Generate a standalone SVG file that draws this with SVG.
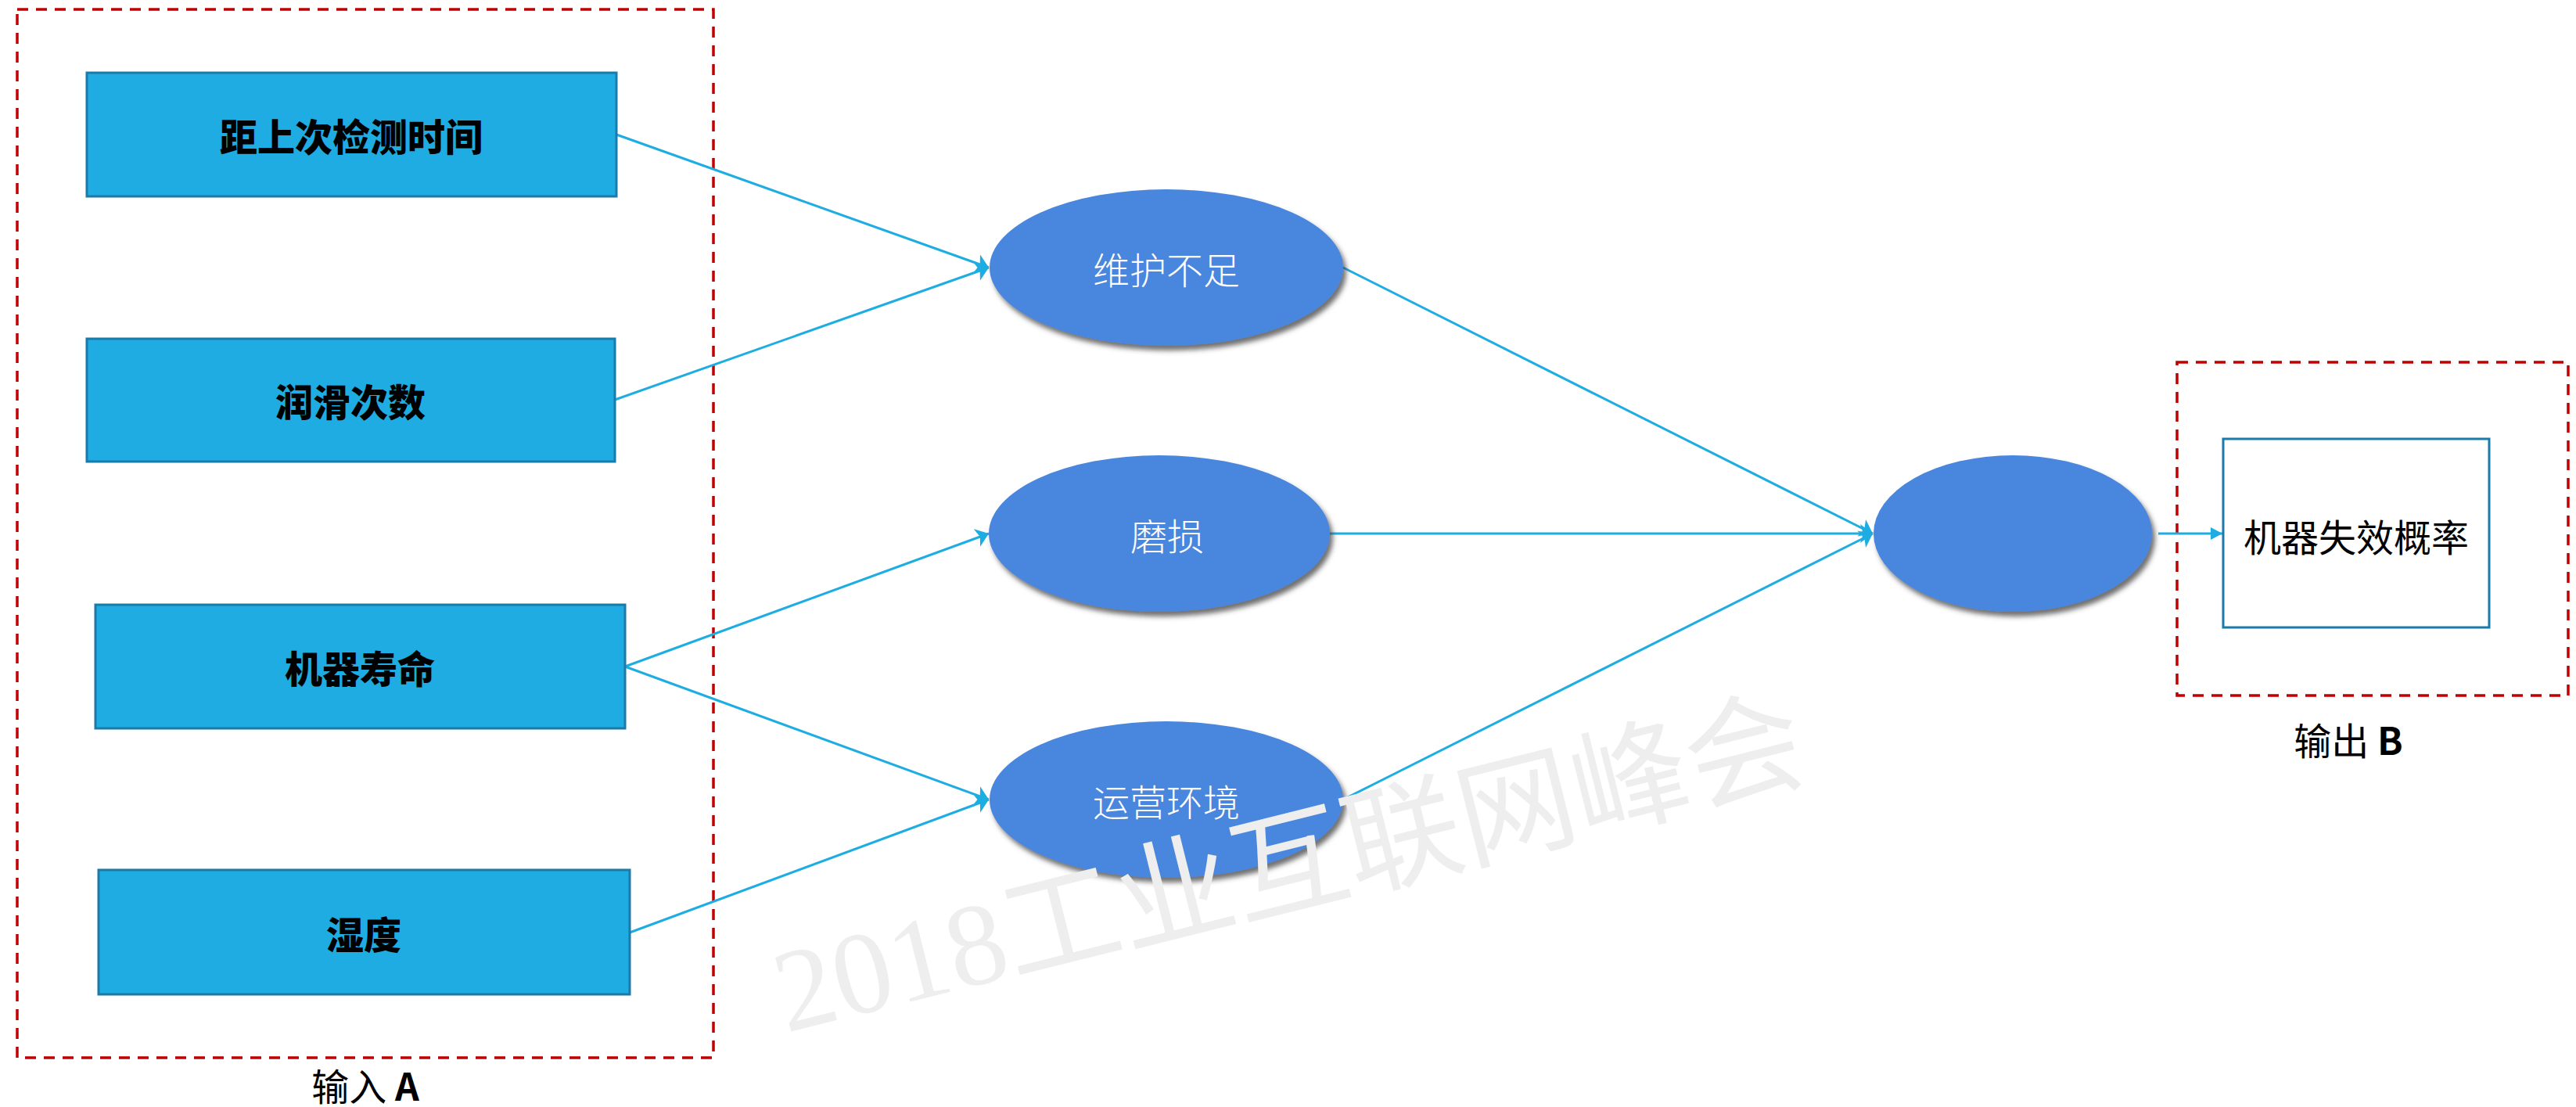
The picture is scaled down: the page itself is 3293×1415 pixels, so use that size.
<svg xmlns="http://www.w3.org/2000/svg" width="3293" height="1415" viewBox="0 0 3293 1415">
  <style>
    .dash { fill: none; stroke: #c00000; stroke-width: 3.5; stroke-dasharray: 14 10; }
    .inbox { fill: #1eace2; stroke: #1a7aa8; stroke-width: 3; }
    .intext { font-family: "Noto Sans CJK SC", "Liberation Sans", sans-serif; font-weight: 900; font-size: 48px; fill: #000; text-anchor: middle; dominant-baseline: central; }
    .ell { fill: #4a86de; filter: url(#shadow); }
    .elltext { font-family: "Noto Sans CJK SC", sans-serif; font-weight: 300; font-size: 47px; fill: #fff; text-anchor: middle; dominant-baseline: central; }
    .conn { stroke: #1eade2; stroke-width: 3; fill: none; }
    .label { font-family: "Noto Sans CJK SC", "Liberation Sans", sans-serif; font-size: 48px; fill: #000; text-anchor: middle; dominant-baseline: central; }
    .wm { font-family: "Liberation Serif", "Noto Sans CJK SC", serif; font-weight: 400; font-size: 150px; fill: #eeeeee; }
  </style>
  <defs>
    <filter id="shadow" x="-10%" y="-10%" width="125%" height="130%">
      <feDropShadow dx="4" dy="6" stdDeviation="3" flood-color="#404040" flood-opacity="0.75"/>
    </filter>
    <marker id="arr" markerUnits="userSpaceOnUse" markerWidth="18" markerHeight="24" refX="16" refY="12" orient="auto">
      <path d="M0,0 L16,12 L0,24 L4,12 Z" fill="#1eade2"/>
    </marker>
    <marker id="arrS" markerUnits="userSpaceOnUse" markerWidth="16" markerHeight="16" refX="15" refY="8" orient="auto">
      <path d="M0,0 L15,8 L0,16 Z" fill="#1eade2"/>
    </marker>
  </defs>
  <rect width="3293" height="1415" fill="#fff"/>

  <g id="group-input">
    <rect class="dash" x="22" y="12" width="890" height="1340"/>
    <text class="label" x="467" y="1386">输入 <tspan font-weight="700">A</tspan></text>
  </g>
  <g id="group-output">
    <rect class="dash" x="2783" y="463" width="500" height="426"/>
    <text class="label" x="3002" y="944">输出 <tspan font-weight="700">B</tspan></text>
  </g>

  <g id="connectors">
    <line class="conn" x1="788" y1="172" x2="1264" y2="342" marker-end="url(#arr)"/>
    <line class="conn" x1="786" y1="511" x2="1264" y2="342" marker-end="url(#arr)"/>
    <line class="conn" x1="799" y1="852" x2="1264" y2="682" marker-end="url(#arr)"/>
    <line class="conn" x1="799" y1="852" x2="1264" y2="1022" marker-end="url(#arr)"/>
    <line class="conn" x1="805" y1="1192" x2="1264" y2="1022" marker-end="url(#arr)"/>
    <line class="conn" x1="1717" y1="342" x2="2394" y2="682" marker-end="url(#arr)"/>
    <line class="conn" x1="1700" y1="682" x2="2394" y2="682" marker-end="url(#arr)"/>
    <line class="conn" x1="1717" y1="1022" x2="2394" y2="682" marker-end="url(#arr)"/>
    <line class="conn" x1="2759" y1="682" x2="2841" y2="682" marker-end="url(#arrS)"/>
  </g>

  <g id="node-time">
    <rect class="inbox" x="111" y="93" width="677" height="158"/>
    <text class="intext" x="449" y="172">距上次检测时间</text>
  </g>
  <g id="node-lube">
    <rect class="inbox" x="111" y="433" width="675" height="157"/>
    <text class="intext" x="448" y="511">润滑次数</text>
  </g>
  <g id="node-life">
    <rect class="inbox" x="122" y="773" width="677" height="158"/>
    <text class="intext" x="460" y="852">机器寿命</text>
  </g>
  <g id="node-humidity">
    <rect class="inbox" x="126" y="1112" width="679" height="159"/>
    <text class="intext" x="465" y="1192">湿度</text>
  </g>

  <g id="node-maint">
    <ellipse class="ell" cx="1491" cy="342" rx="226" ry="100"/>
    <text class="elltext" x="1491" y="342">维护不足</text>
  </g>
  <g id="node-wear">
    <ellipse class="ell" cx="1482" cy="682" rx="218" ry="100"/>
    <text class="elltext" x="1492" y="682">磨损</text>
  </g>
  <g id="node-env">
    <ellipse class="ell" cx="1491" cy="1022" rx="226" ry="100"/>
    <text class="elltext" x="1491" y="1022">运营环境</text>
  </g>
  <g id="node-hidden">
    <ellipse class="ell" cx="2573" cy="682" rx="178" ry="100"/>
  </g>
  <g id="node-result">
    <rect x="2842" y="561" width="340" height="241" fill="#fff" stroke="#1a7aa8" stroke-width="3"/>
    <text class="label" x="3012" y="684">机器失效概率</text>
  </g>

  <text class="wm" x="1005" y="1320" transform="rotate(-14 1005 1320)">2018工业互联网峰会</text>
</svg>
